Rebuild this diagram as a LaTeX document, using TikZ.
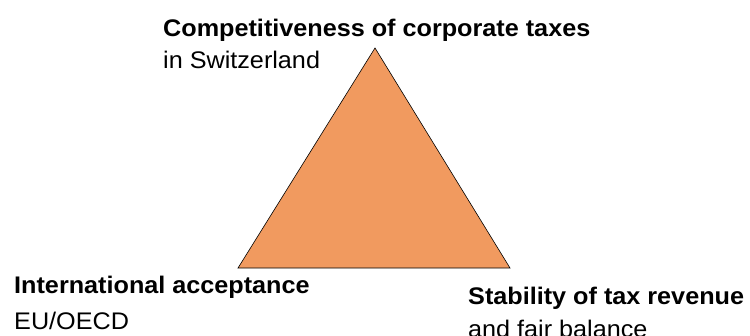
\documentclass[tikz,border=0pt]{standalone}
\usepackage{fontspec}
\setmainfont{Liberation Sans}
\usepackage{graphicx}
\usepackage{xcolor}
\usepackage{tikz}
\usetikzlibrary{positioning,calc}

\definecolor{taxorange}{HTML}{F19A5F}

% slightly wide lettering
\newcommand{\widetext}[1]{\scalebox{1.05}[1]{#1}}

\tikzset{
  headline/.style={font=\fontsize{24}{28}\selectfont\bfseries, inner sep=0pt, anchor=base west},
  subline/.style={font=\fontsize{24}{28}\selectfont, inner sep=0pt, anchor=base west}
}

\begin{document}
\begin{tikzpicture}[x=1pt, y=-1pt]

\useasboundingbox (0,0) rectangle (750,335);

% Corners of the triangle
\coordinate (top) at (375,48);
\coordinate (left) at (238,268);
\coordinate (right) at (510,268);
\draw[fill=taxorange, line width=0.6pt, line join=miter] (top) -- (left) -- (right) -- cycle;

% Top label
\node[headline] (compet) at (163,36) {\widetext{Competitiveness of corporate taxes}};
\node[subline] (swiss) at ([yshift=-32pt]compet.base west) {\widetext{in Switzerland}};

% Bottom left label
\node[headline] (intl) at (14,293) {\widetext{International acceptance}};
\node[subline] (oecd) at ([yshift=-36pt]intl.base west) {\widetext{EU/OECD}};

% Bottom right label
\node[headline] (stab) at (468,304) {\widetext{Stability of tax revenue}};
\node[subline] (fair) at ([yshift=-33pt]stab.base west) {\widetext{and fair balance}};

\end{tikzpicture}
\end{document}
